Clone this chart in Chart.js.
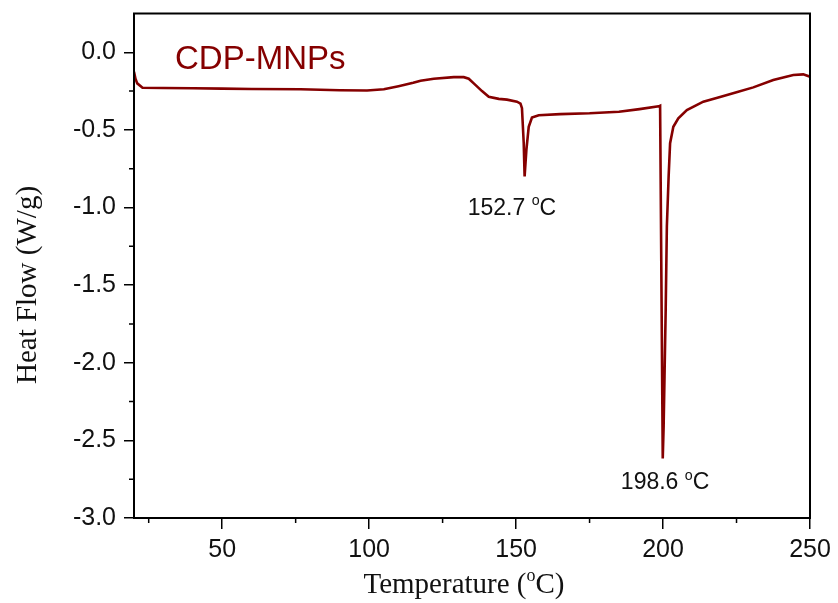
<!DOCTYPE html>
<html>
<head>
<meta charset="utf-8">
<script src="https://cdn.jsdelivr.net/npm/chart.js@4.4.1/dist/chart.umd.min.js"></script>
<style>
  html, body { margin: 0; padding: 0; background: #fff; }
  #wrap { width: 838px; height: 603px; position: relative; }
</style>
</head>
<body>
<div id="wrap"><canvas id="dscChart" width="838" height="603"></canvas></div>
<script>
// DSC trace (temperature in degC, heat flow in W/g)
const temperature = [
  20, 20.5, 21.1, 22.9, 30, 40, 50, 60, 76.7, 90, 99.3, 105, 110, 115, 117.5,
  122, 128.8, 132.2, 133.9, 135.6, 138.4, 140.7, 144.1, 146.9, 150.3, 151.5,
  152.0, 152.6, 152.9, 153.5, 154.3, 155.4, 157.7, 165, 175, 185, 192, 198.5,
  199.0, 199.9, 200.2, 200.5, 200.9, 201.3, 201.9, 202.4, 203.5, 205.2, 208.1,
  213.7, 219.4, 225, 230.7, 237.5, 244.3, 247.7, 250
];
const heatFlow = [
  -0.125, -0.17, -0.20, -0.228, -0.23, -0.232, -0.234, -0.236, -0.238, -0.244, -0.246, -0.238, -0.218, -0.196, -0.183,
  -0.17, -0.16, -0.16, -0.17, -0.20, -0.25, -0.286, -0.30, -0.305, -0.318, -0.33,
  -0.36, -0.586, -0.80, -0.63, -0.48, -0.42, -0.405, -0.398, -0.393, -0.383, -0.366, -0.348,
  -0.344, -2.616, -2.41, -2.09, -1.66, -1.12, -0.80, -0.586, -0.48, -0.425, -0.372,
  -0.318, -0.288, -0.258, -0.226, -0.178, -0.146, -0.142, -0.157
];

const xTicksMinor = [25, 75, 125, 175, 225];
const yTicksMinor = [-2.75, -2.25, -1.75, -1.25, -0.75, -0.25];
const peakLabels = ['152.7', '198.6'];
const seriesName = 'CDP-MNPs';

const lineColor = '#850000';
const sans = '"Liberation Sans", Arial, sans-serif';
const serif = '"Liberation Serif", "Times New Roman", serif';

const points = temperature.map((t, i) => ({ x: t, y: heatFlow[i] }));

// draw text with a superscript "o" piece, centred on x
function drawParts (ctx, parts, x, y, size, family) {
  let total = 0;
  parts.forEach(p => {
    ctx.font = (p.sup ? size * 0.62 : size) + 'px ' + family;
    p.w = ctx.measureText(p.t).width;
    total += p.w;
  });
  let cx = x - total / 2;
  ctx.textAlign = 'left';
  parts.forEach(p => {
    ctx.font = (p.sup ? size * 0.62 : size) + 'px ' + family;
    ctx.fillText(p.t, cx, p.sup ? y - size * 0.42 : y);
    cx += p.w;
  });
}

const decorations = {
  id: 'decorations',
  afterDraw (chart) {
    const { ctx, chartArea: a, scales } = chart;
    const xs = scales.x;
    const ys = scales.y;
    ctx.save();

    // frame
    ctx.strokeStyle = '#000';
    ctx.lineWidth = 2;
    ctx.strokeRect(a.left, a.top, a.right - a.left, a.bottom - a.top);

    // minor ticks
    ctx.lineWidth = 1.5;
    ctx.beginPath();
    xTicksMinor.forEach(v => {
      const px = xs.getPixelForValue(v);
      ctx.moveTo(px, a.bottom);
      ctx.lineTo(px, a.bottom + 5);
    });
    yTicksMinor.forEach(v => {
      const py = ys.getPixelForValue(v);
      ctx.moveTo(a.left, py);
      ctx.lineTo(a.left - 5, py);
    });
    ctx.stroke();

    // series name
    ctx.fillStyle = lineColor;
    ctx.font = '33px ' + sans;
    ctx.textAlign = 'left';
    ctx.textBaseline = 'alphabetic';
    ctx.fillText(seriesName, a.left + 41, a.top + 55);

    // peak labels
    ctx.fillStyle = '#111';
    drawParts(ctx, [{ t: peakLabels[0] + ' ' }, { t: 'o', sup: true }, { t: 'C' }],
      xs.getPixelForValue(148.6), ys.getPixelForValue(-1.048), 23, sans);
    drawParts(ctx, [{ t: peakLabels[1] + ' ' }, { t: 'o', sup: true }, { t: 'C' }],
      xs.getPixelForValue(200.7), ys.getPixelForValue(-2.816), 23, sans);

    // axis titles
    drawParts(ctx, [{ t: 'Temperature (' }, { t: 'o', sup: true }, { t: 'C)' }],
      (a.left + a.right) / 2 - 8, 593, 29, serif);

    ctx.translate(28, 285);
    ctx.rotate(-Math.PI / 2);
    ctx.textBaseline = 'middle';
    ctx.font = '29px ' + serif;
    ctx.textAlign = 'center';
    ctx.fillText('Heat Flow (W/g)', 0, 0);
    ctx.restore();
  },
};

const ctx = document.getElementById('dscChart').getContext('2d');
new Chart(ctx, {
  type: 'scatter',
  data: {
    datasets: [{
      label: seriesName,
      data: points,
      showLine: true,
      borderColor: lineColor,
      backgroundColor: lineColor,
      borderWidth: 2.6,
      pointRadius: 0,
      tension: 0,
    }],
  },
  options: {
    responsive: false,
    animation: false,
    layout: { padding: { top: 13.5, right: 28, left: 0, bottom: 0 } },
    plugins: { legend: { display: false }, tooltip: { enabled: false } },
    scales: {
      x: {
        type: 'linear',
        min: 20,
        max: 250,
        afterFit: (scale) => {
          scale.height = 85;
          scale.paddingLeft = 0;
          scale.paddingRight = 0;
        },
        border: { color: '#000', width: 2 },
        grid: { drawOnChartArea: false, color: '#000', lineWidth: 1.5, tickLength: 11 },
        ticks: {
          stepSize: 50,
          includeBounds: false,
          color: '#111',
          padding: 6,
          maxRotation: 0,
          font: { family: sans, size: 25 },
        },
      },
      y: {
        type: 'linear',
        min: -3,
        max: 0.25,
        afterFit: (scale) => {
          scale.width = 134;
          scale.paddingTop = 0;
          scale.paddingBottom = 0;
        },
        border: { color: '#000', width: 2 },
        grid: { drawOnChartArea: false, color: '#000', lineWidth: 1.5, tickLength: 10 },
        ticks: {
          stepSize: 0.5,
          includeBounds: false,
          color: '#111',
          padding: 8,
          font: { family: sans, size: 25 },
          callback: (v) => v.toFixed(1),
        },
      },
    },
  },
  plugins: [decorations],
});
</script>
</body>
</html>
